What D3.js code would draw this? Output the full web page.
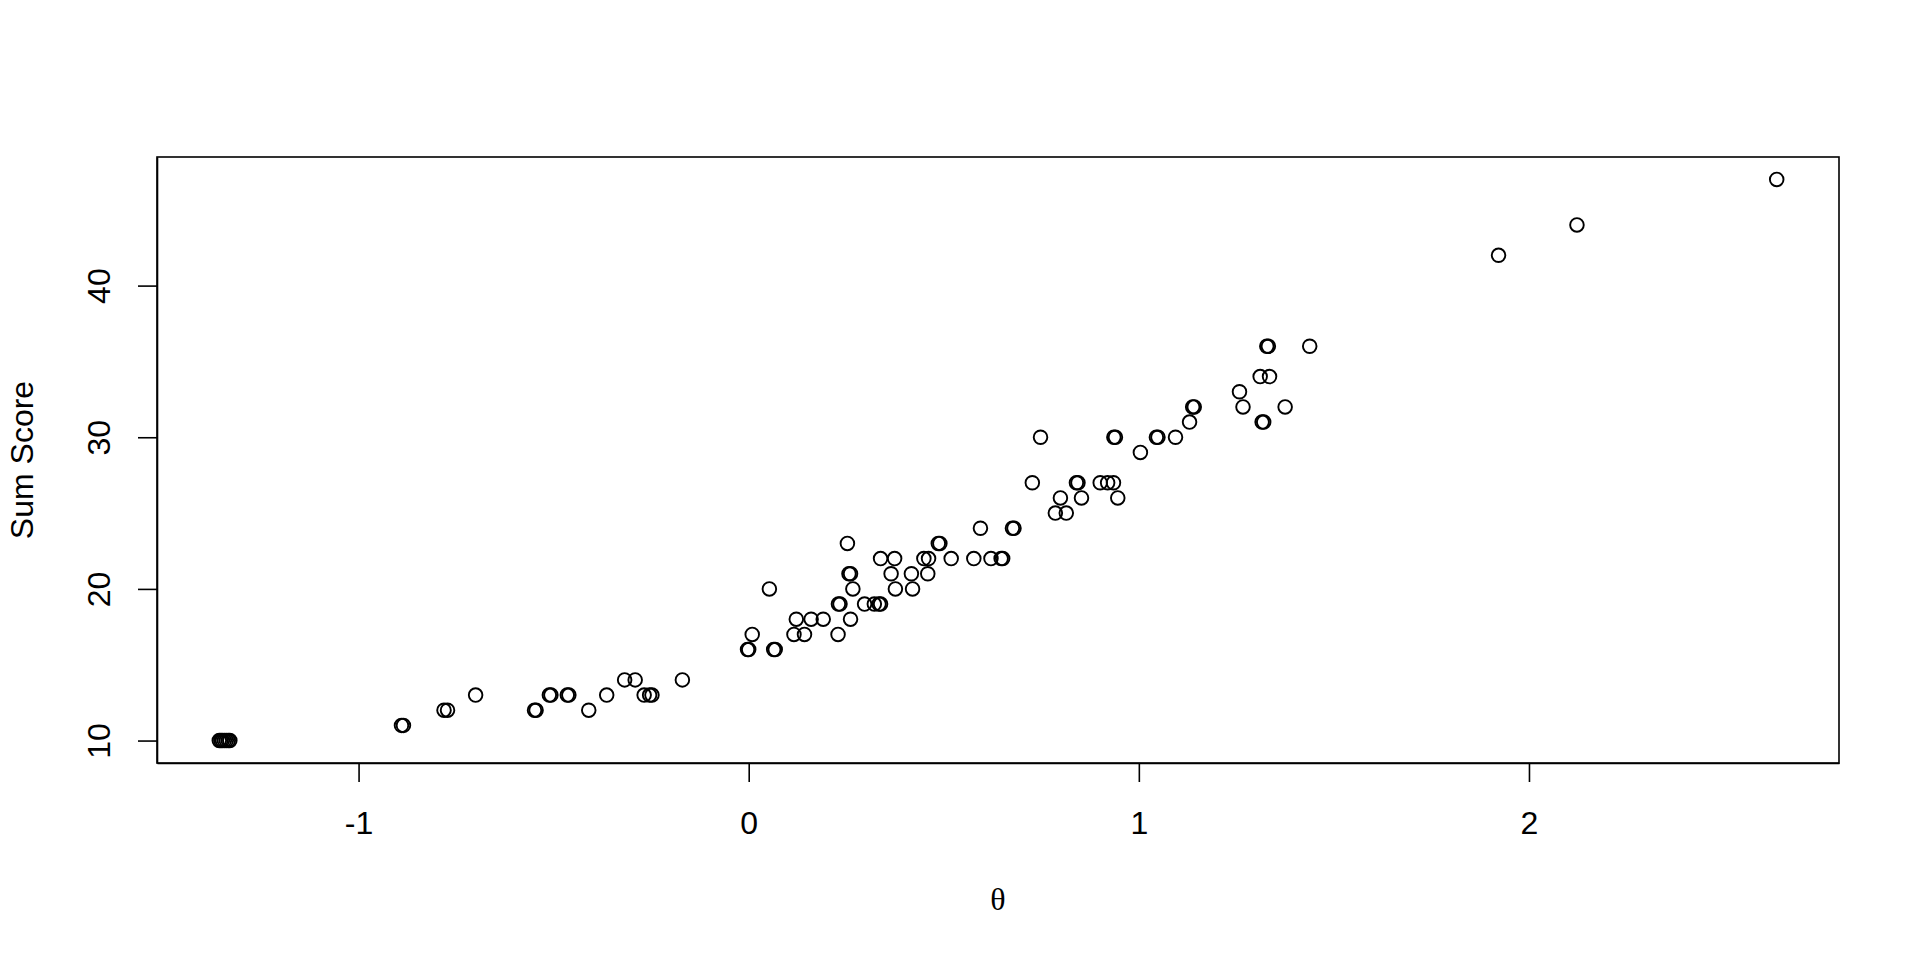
<!DOCTYPE html>
<html>
<head>
<meta charset="utf-8">
<script src="https://cdn.jsdelivr.net/npm/d3@7"></script>
<style>
  body { margin: 0; background: #fff; }
  svg { display: block; }
</style>
</head>
<body>
<svg></svg>
<script>
var width = 1920
var height = 960
var margin = { left: 157, right: 81, top: 157, bottom: 197 }

// sum score per person, with the theta estimate
var sumScore = [
    10, 10, 10, 10, 10, 10, 10,
    11, 11,
    12, 12, 12, 12, 12,
    13, 13, 13, 13, 13, 13, 13, 13, 13,
    14, 14, 14,
    16, 16, 16, 16,
    17, 17, 17, 17,
    18, 18, 18, 18,
    19, 19, 19, 19, 19, 19,
    20, 20, 20, 20,
    21, 21, 21, 21, 21,
    22, 22, 22, 22, 22, 22, 22, 22, 22,
    23, 23, 23,
    24, 24, 24,
    25, 25,
    26, 26, 26,
    27, 27, 27, 27, 27, 27,
    29,
    30, 30, 30, 30, 30, 30,
    31, 31, 31,
    32, 32, 32, 32,
    33,
    34, 34,
    36, 36, 36,
    42,
    44,
    47
]

var theta = [
    -1.357, -1.353, -1.349, -1.344, -1.339, -1.334, -1.330,
    -0.890, -0.885,
    -0.781, -0.772, -0.549, -0.545, -0.410,
    -0.700, -0.511, -0.507, -0.465, -0.461, -0.364, -0.268, -0.254, -0.248,
    -0.318, -0.291, -0.170,
    -0.003, 0.000, 0.064, 0.068,
    0.009, 0.116, 0.143, 0.229,
    0.122, 0.160, 0.191, 0.261,
    0.230, 0.234, 0.297, 0.322, 0.334, 0.338,
    0.053, 0.267, 0.376, 0.420,
    0.257, 0.261, 0.365, 0.417, 0.459,
    0.338, 0.374, 0.449, 0.461, 0.519, 0.577, 0.621, 0.647, 0.651,
    0.253, 0.486, 0.490,
    0.594, 0.676, 0.680,
    0.786, 0.814,
    0.799, 0.853, 0.946,
    0.727, 0.840, 0.844, 0.901, 0.920, 0.935,
    1.004,
    0.748, 0.936, 0.940, 1.045, 1.049, 1.094,
    1.130, 1.316, 1.320,
    1.138, 1.142, 1.267, 1.375,
    1.258,
    1.311, 1.335,
    1.328, 1.332, 1.438,
    1.922,
    2.123,
    2.635
]

var xTicks = [-1, 0, 1, 2]
var yTicks = [10, 20, 30, 40]

var data = theta.map((t, i) => ({ theta: t, score: sumScore[i] }))

// R style axis limits: data range stretched by 4% on each side
function padded(extent) {
    var d = (extent[1] - extent[0]) * 0.04
    return [extent[0] - d, extent[1] + d]
}

var xScale = d3.scaleLinear()
    .domain(padded(d3.extent(theta)))
    .range([margin.left, width - margin.right])

var yScale = d3.scaleLinear()
    .domain(padded(d3.extent(sumScore)))
    .range([height - margin.bottom, margin.top])

var svg = d3.select("svg")
    .attr("width", width)
    .attr("height", height)

var font = "'Liberation Sans', Arial, Helvetica, sans-serif"

// plain hyphen for negatives, like R does
var xAxis = d3.axisBottom(xScale)
    .tickValues(xTicks)
    .tickFormat(d => String(d))
    .tickSize(19)
    .tickSizeOuter(0)
    .tickPadding(29)

var yAxis = d3.axisLeft(yScale)
    .tickValues(yTicks)
    .tickFormat(d => String(d))
    .tickSize(19)
    .tickSizeOuter(0)

var gx = svg.append("g")
    .attr("transform", `translate(0, ${height - margin.bottom})`)
    .call(xAxis)

var gy = svg.append("g")
    .attr("transform", `translate(${margin.left}, 0)`)
    .call(yAxis)

gx.selectAll("text")
    .attr("fill", "#000")
    .style("font-family", font)
    .style("font-size", "32px")

gy.selectAll("text")
    .attr("fill", "#000")
    .attr("transform", "rotate(-90)")
    .attr("x", 0)
    .attr("y", -47)
    .attr("dy", 0)
    .style("text-anchor", "middle")
    .style("font-family", font)
    .style("font-size", "32px")

svg.selectAll(".tick line, .domain")
    .attr("stroke", "#000")
    .attr("stroke-width", 1.6)

svg.append("rect")
    .attr("x", margin.left)
    .attr("y", margin.top)
    .attr("width", width - margin.left - margin.right)
    .attr("height", height - margin.top - margin.bottom)
    .attr("fill", "none")
    .attr("stroke", "#000")
    .attr("stroke-width", 1.6)

svg.append("g")
    .selectAll("circle")
    .data(data)
    .enter()
    .append("circle")
    .attr("cx", d => xScale(d.theta))
    .attr("cy", d => yScale(d.score))
    .attr("r", 6.8)
    .attr("fill", "none")
    .attr("stroke", "#000")
    .attr("stroke-width", 1.9)

svg.append("text")
    .attr("x", (margin.left + width - margin.right) / 2)
    .attr("y", 910)
    .style("text-anchor", "middle")
    .style("font-family", "'Liberation Serif', 'DejaVu Serif', serif")
    .style("font-size", "32px")
    .text("θ")

svg.append("text")
    .attr("transform", "rotate(-90)")
    .attr("x", -(margin.top + height - margin.bottom) / 2)
    .attr("y", 33)
    .style("text-anchor", "middle")
    .style("font-family", font)
    .style("font-size", "32px")
    .text("Sum Score")
</script>
</body>
</html>
